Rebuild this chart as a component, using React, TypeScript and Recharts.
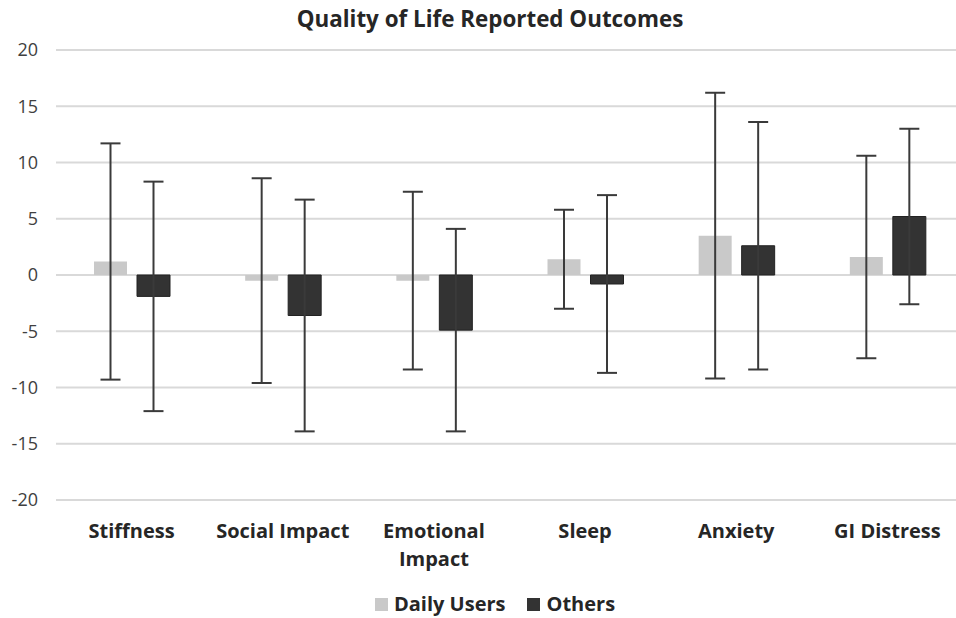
import { Bar, BarChart, CartesianGrid, ErrorBar, Text, XAxis, YAxis } from 'recharts'

const CATEGORIES = ['Stiffness', 'Social Impact', 'Emotional Impact', 'Sleep', 'Anxiety', 'GI Distress']
const DAILY_USERS = [1.2, -0.5, -0.5, 1.4, 3.5, 1.6]
const DAILY_USERS_SD = [10.5, 9.1, 7.9, 4.4, 12.7, 9.0]
const OTHERS = [-1.9, -3.6, -4.9, -0.8, 2.6, 5.2]
const OTHERS_SD = [10.2, 10.3, 9.0, 7.9, 11.0, 7.8]
const Y_TICKS = [-20, -15, -10, -5, 0, 5, 10, 15, 20]

const FONT = "'Open Sans', sans-serif"
const DAILY_COLOR = '#c9c9c9'
const OTHERS_COLOR = '#333333'

const chartData = CATEGORIES.map((name, i) => ({
  name,
  daily: DAILY_USERS[i],
  dailySd: DAILY_USERS_SD[i],
  others: OTHERS[i],
  othersSd: OTHERS_SD[i],
}))

// category labels wrap onto a second line when wider than the band
function CategoryTick({ x, y, payload }: any) {
  return (
    <Text
      x={x}
      y={y + 24}
      width={140}
      textAnchor='middle'
      verticalAnchor='start'
      lineHeight={28}
      fill='#262626'
      style={{ fontFamily: FONT, fontSize: 20, fontWeight: 700 }}
    >
      {payload.value}
    </Text>
  )
}

export default function App() {
  return (
    <div
      style={{
        position: 'absolute',
        top: 0,
        left: 0,
        width: 956,
        height: 618,
        overflow: 'hidden',
        background: '#fff',
        fontFamily: FONT,
      }}
    >
      <div
        style={{
          position: 'absolute',
          top: 5,
          left: 0,
          width: 980,
          textAlign: 'center',
          fontSize: 22.4,
          fontWeight: 700,
          lineHeight: '28px',
          color: '#262626',
        }}
      >
        Quality of Life Reported Outcomes
      </div>
      <BarChart
        width={964}
        height={618}
        data={chartData}
        margin={{ top: 50, right: 1, left: 10, bottom: 58 }}
        barSize={33}
        barGap={10}
      >
        <CartesianGrid vertical={false} stroke='#d9d9d9' strokeWidth={2} />
        <XAxis
          dataKey='name'
          height={60}
          axisLine={false}
          tickLine={false}
          tickSize={0}
          tickMargin={0}
          interval={0}
          tick={<CategoryTick />}
        />
        <YAxis
          width={46}
          domain={[-20, 20]}
          ticks={Y_TICKS}
          axisLine={false}
          tickLine={false}
          tickSize={0}
          tickMargin={18}
          tick={{ fill: '#404040', fontSize: 18, fontFamily: FONT }}
        />
        <Bar dataKey='daily' fill={DAILY_COLOR} isAnimationActive={false}>
          <ErrorBar dataKey='dailySd' direction='y' width={10} stroke='#3a3a3a' strokeWidth={2} />
        </Bar>
        <Bar dataKey='others' fill={OTHERS_COLOR} stroke='#222' strokeWidth={1} isAnimationActive={false}>
          <ErrorBar dataKey='othersSd' direction='y' width={10} stroke='#3a3a3a' strokeWidth={2} />
        </Bar>
      </BarChart>
      <div
        style={{
          position: 'absolute',
          top: 592,
          left: 0,
          width: 990,
          display: 'flex',
          justifyContent: 'center',
          gap: 22,
          fontSize: 20,
          fontWeight: 700,
          lineHeight: '24px',
          color: '#262626',
        }}
      >
        {[
          { label: 'Daily Users', color: DAILY_COLOR },
          { label: 'Others', color: OTHERS_COLOR },
        ].map((item) => (
          <div key={item.label} style={{ display: 'flex', alignItems: 'center', gap: 6 }}>
            <span style={{ width: 13, height: 13, background: item.color, display: 'inline-block' }} />
            <span>{item.label}</span>
          </div>
        ))}
      </div>
    </div>
  )
}
